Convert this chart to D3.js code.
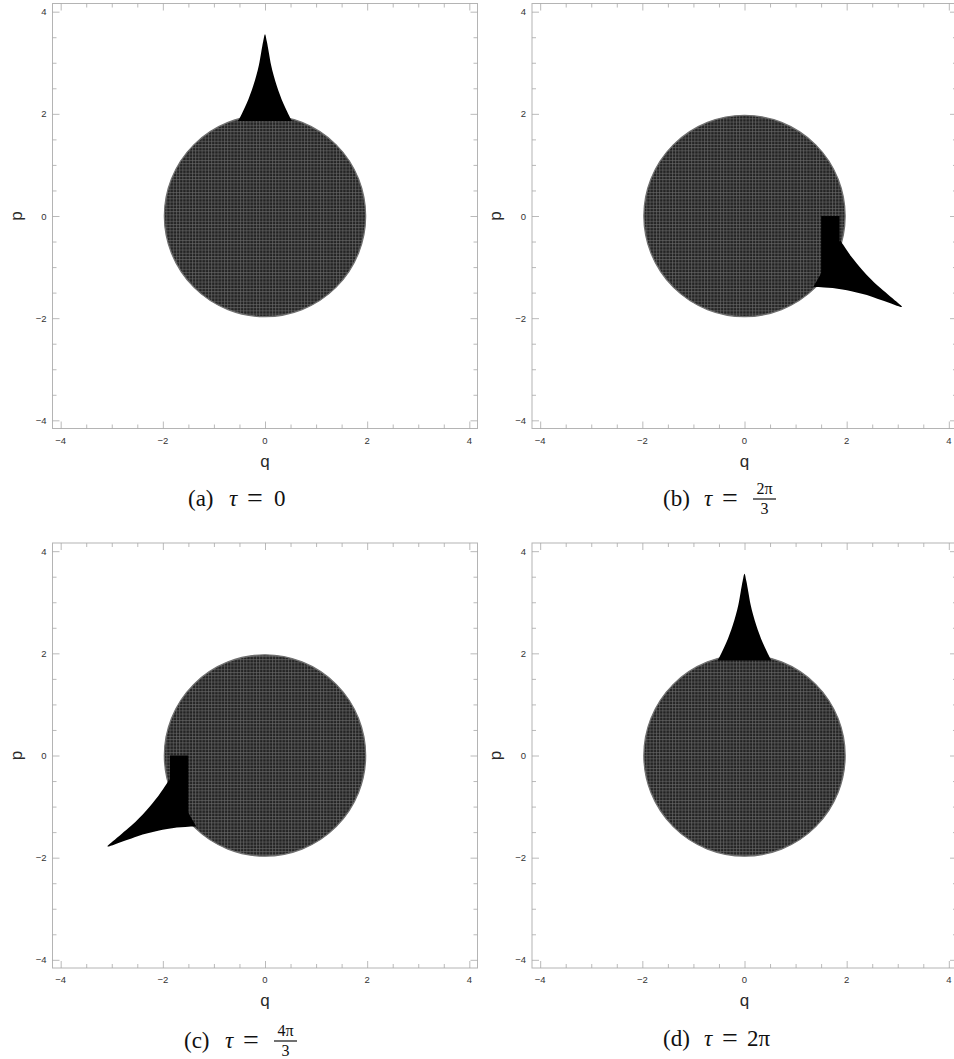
<!DOCTYPE html>
<html>
<head>
<meta charset="utf-8">
<script src="https://cdn.jsdelivr.net/npm/d3@7"></script>
<style>
  body { margin: 0; background: #fff; }
  svg { display: block; }
</style>
</head>
<body>
<svg id="chart" width="954" height="1059"></svg>
<script>
// phase-space snapshots, one per tau
const taus = [0, 2 * Math.PI / 3, 4 * Math.PI / 3, 2 * Math.PI];
const panelTags = ["(a)", "(b)", "(c)", "(d)"];
const tauPlain = ["0", null, null, "2π"];
const tauNum = [null, "2π", "4π", null];
const tauDen = [null, "3", "3", null];

const majorTicks = [-4, -2, 0, 2, 4];
const minorTicks = [-3.5, -3, -2.5, -1.5, -1, -0.5, 0.5, 1, 1.5, 2.5, 3, 3.5];
const tickLabels = ["−4", "−2", "0", "2", "4"];

const circleRadius = 1.97;

// spike outline at tau = 0 (q, p)
const spikeQ = [-0.53, -0.48, -0.43, -0.36, -0.29, -0.23, -0.17, -0.12, -0.075, -0.035, 0,
                0.035, 0.075, 0.12, 0.17, 0.23, 0.29, 0.36, 0.43, 0.48, 0.53];
const spikeP = [1.86, 1.95, 2.05, 2.2, 2.38, 2.55, 2.75, 2.95, 3.2, 3.42, 3.56,
                3.42, 3.2, 2.95, 2.75, 2.55, 2.38, 2.2, 2.05, 1.95, 1.86];

// extra black block at the root of the spike (q0, q1, p0, p1)
const blockQ = [null, [1.5, 1.86], [-1.86, -1.5], null];
const blockP = [null, [-1.37, 0], [-1.37, 0], null];

const W = 425, H = 425;
const lefts = [52.5, 532, 52.5, 532];
const tops = [3.5, 3.5, 543, 543];
const captionX = [188, 663, 184, 663];
const captionY = [506, 506, 1048, 1046];

const serif = "Liberation Serif, Times New Roman, serif";
const sans = "Liberation Sans, Arial, sans-serif";

const svg = d3.select("#chart");
const defs = svg.append("defs");

const pat = defs.append("pattern")
  .attr("id", "tex")
  .attr("patternUnits", "userSpaceOnUse")
  .attr("width", 3.2)
  .attr("height", 3.2);
pat.append("rect").attr("width", 3.2).attr("height", 3.2).attr("fill", "#232323");
pat.append("path")
  .attr("d", "M0,0.5H3.2M0.5,0V3.2")
  .attr("stroke", "#6c6c6c")
  .attr("stroke-width", 0.6);

taus.forEach((tau, i) => {
  const L = lefts[i], T = tops[i];
  const x = d3.scaleLinear().domain([-4.16, 4.16]).range([L, L + W]);
  const y = d3.scaleLinear().domain([-4.16, 4.16]).range([T + H, T]);
  const g = svg.append("g");

  // frame
  g.append("rect")
    .attr("x", L).attr("y", T).attr("width", W).attr("height", H)
    .attr("fill", "none").attr("stroke", "#b4b4b4").attr("stroke-width", 1);

  // ticks on all four sides, pointing inward
  const sides = [
    [() => d3.axisBottom(x), 0, T + H],
    [() => d3.axisTop(x), 0, T],
    [() => d3.axisLeft(y), L, 0],
    [() => d3.axisRight(y), L + W, 0]
  ];
  sides.forEach(([mk, tx, ty]) => {
    [[majorTicks, 7], [minorTicks, 4]].forEach(([vals, len]) => {
      const axis = mk().tickValues(vals).tickSizeInner(-len).tickSizeOuter(0).tickFormat("");
      const ag = g.append("g").attr("transform", `translate(${tx},${ty})`).call(axis);
      ag.select(".domain").remove();
      ag.selectAll("line").attr("stroke", "#a8a8a8").attr("stroke-width", 0.8);
    });
  });

  // tick labels
  g.selectAll(".xl").data(majorTicks).join("text")
    .attr("x", d => x(d)).attr("y", T + H + 15)
    .attr("text-anchor", "middle")
    .attr("font-family", sans)
    .attr("font-size", 9.5).attr("fill", "#333")
    .text((d, j) => tickLabels[j]);
  g.selectAll(".yl").data(majorTicks).join("text")
    .attr("x", L - 6).attr("y", d => y(d) + 3.5)
    .attr("text-anchor", "end")
    .attr("font-family", sans)
    .attr("font-size", 9.5).attr("fill", "#333")
    .text((d, j) => tickLabels[j]);

  // axis titles
  g.append("text")
    .attr("x", x(0)).attr("y", T + H + 38)
    .attr("text-anchor", "middle")
    .attr("font-family", sans)
    .attr("font-size", 17).attr("fill", "#2a2a2a")
    .text("q");
  g.append("text")
    .attr("transform", `translate(${L - 31},${y(0)}) rotate(-90)`)
    .attr("text-anchor", "middle")
    .attr("font-family", sans)
    .attr("font-size", 17).attr("fill", "#2a2a2a")
    .text("p");

  // the disc
  g.append("circle")
    .attr("cx", x(0)).attr("cy", y(0))
    .attr("r", x(circleRadius) - x(0))
    .attr("fill", "url(#tex)")
    .attr("stroke", "#707070").attr("stroke-width", 1.3);

  // block at spike root
  if (blockQ[i]) {
    g.append("rect")
      .attr("x", x(blockQ[i][0])).attr("y", y(blockP[i][1]))
      .attr("width", x(blockQ[i][1]) - x(blockQ[i][0]))
      .attr("height", y(blockP[i][0]) - y(blockP[i][1]))
      .attr("fill", "#000");
  }

  // spike, rotated clockwise by tau
  const c = Math.cos(tau), s = Math.sin(tau);
  const pts = spikeQ.map((q, j) => {
    const p = spikeP[j];
    return [x(q * c + p * s), y(-q * s + p * c)];
  });
  g.append("path")
    .attr("d", d3.line().curve(d3.curveCatmullRom)(pts) + "Z")
    .attr("fill", "#000");

  // caption, pieces placed like the typeset original
  const x0 = captionX[i], y0 = captionY[i];
  const piece = (dx, txt, opts = {}) => g.append("text")
    .attr("x", x0 + dx).attr("y", y0 + (opts.dy || 0))
    .attr("text-anchor", opts.anchor || "start")
    .attr("font-family", serif)
    .attr("font-style", opts.italic ? "italic" : "normal")
    .attr("font-size", opts.size || 23).attr("fill", "#111")
    .text(txt);
  piece(0, panelTags[i]);
  piece(41, "τ", { italic: true });
  piece(59, "=", { size: 28, dy: 1 });
  if (tauPlain[i]) {
    piece(i === 0 ? 86 : 84, tauPlain[i]);
  } else {
    const fx = 90, fw = 23;
    g.append("line")
      .attr("x1", x0 + fx).attr("x2", x0 + fx + fw)
      .attr("y1", y0 - 7).attr("y2", y0 - 7)
      .attr("stroke", "#111").attr("stroke-width", 1.2);
    piece(fx + fw / 2, tauNum[i], { anchor: "middle", size: 16, dy: -12 });
    piece(fx + fw / 2, tauDen[i], { anchor: "middle", size: 16, dy: 8 });
  }
});
</script>
</body>
</html>
